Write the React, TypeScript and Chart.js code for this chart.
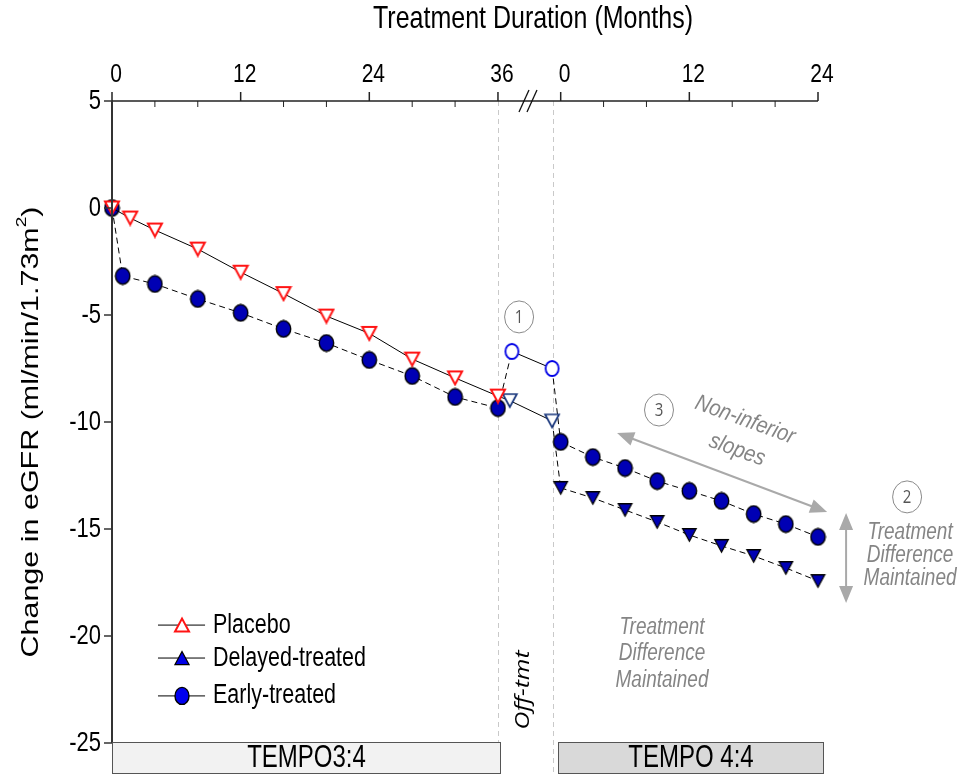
import React, { useEffect, useRef } from "react";
import { Chart, registerables } from "chart.js";

Chart.register(...registerables);

// ---------- data ----------
const TICK_MONTHS_P1 = [0, 12, 24, 36];
const TICK_MONTHS_P2 = [0, 12, 24];
const MINOR_MONTHS_P1 = [4, 8, 16, 20, 28, 32];
const MINOR_MONTHS_P2 = [4, 8, 16, 20];
const Y_TICKS = [5, 0, -5, -10, -15, -20, -25];

const PLACEBO_MONTHS = [0, 1.7, 4, 8, 12, 16, 20, 24, 28, 32, 36];
const PLACEBO_VALUES = [0, -0.47, -1.03, -1.92, -3.0, -4.0, -5.05, -5.86, -7.06, -7.94, -8.79];
const EARLY_P1_MONTHS = [0, 1, 4, 8, 12, 16, 20, 24, 28, 32, 36];
const EARLY_P1_VALUES = [0, -3.18, -3.55, -4.25, -4.9, -5.65, -6.31, -7.1, -7.85, -8.83, -9.35];
const OFF_EARLY_MONTHS = [37.3, 41.05];
const OFF_EARLY_VALUES = [-6.7, -7.5];
const OFF_PLACEBO_MONTHS = [37.1, 41.05];
const OFF_PLACEBO_VALUES = [-9.0, -9.95];
const P2_MONTHS = [0, 3, 6, 9, 12, 15, 18, 21, 24];
const EARLY_P2_VALUES = [-10.93, -11.64, -12.15, -12.76, -13.22, -13.69, -14.3, -14.77, -15.37];
const DELAYED_P2_VALUES = [-13.08, -13.55, -14.11, -14.67, -15.28, -15.79, -16.26, -16.82, -17.43];

// axis position of TEMPO 4:4 month 0 (after the axis break)
const BREAK_OFFSET = 41.85;
const OFF_TMT_LINE = 41.1;
const BREAK_MARK = 38.8;

// ---------- styling ----------
const FONT = '"Liberation Sans", Arial, sans-serif';
const SY = 1.27;
const BLUE = "#0000b4";
const GRAY_TXT = "#858585";
const GRAY_ARROW = "#a9a9a9";

type TOpts = {
  size: number;
  italic?: boolean;
  color?: string;
  align?: CanvasTextAlign;
  rot?: number;
  sx?: number;
  sy?: number;
  family?: string;
};

function txt(ctx: CanvasRenderingContext2D, s: string, x: number, y: number, o: TOpts) {
  ctx.save();
  ctx.translate(x, y);
  if (o.rot) ctx.rotate(o.rot);
  ctx.scale(o.sx ?? 1, o.sy ?? SY);
  ctx.font = `${o.italic ? "italic " : ""}${o.size}px ${o.family ?? FONT}`;
  ctx.fillStyle = o.color ?? "#000";
  ctx.textAlign = o.align ?? "center";
  ctx.textBaseline = "middle";
  ctx.fillText(s, 0, 0);
  ctx.restore();
}

function mk(w: number, h: number, draw: (g: CanvasRenderingContext2D) => void) {
  const c = document.createElement("canvas");
  c.width = w;
  c.height = h;
  draw(c.getContext("2d")!);
  return c;
}

function triPath(g: CanvasRenderingContext2D, cx: number, cy: number, w: number, h: number, down: boolean) {
  g.beginPath();
  if (down) {
    g.moveTo(cx - w / 2, cy - h / 2);
    g.lineTo(cx + w / 2, cy - h / 2);
    g.lineTo(cx, cy + h / 2);
  } else {
    g.moveTo(cx - w / 2, cy + h / 2);
    g.lineTo(cx + w / 2, cy + h / 2);
    g.lineTo(cx, cy - h / 2);
  }
  g.closePath();
}

function makeMarkers() {
  const circleFilled = mk(17, 19, (g) => {
    g.beginPath();
    g.ellipse(8.5, 9.5, 7.2, 8.2, 0, 0, Math.PI * 2);
    g.fillStyle = BLUE;
    g.fill();
    g.lineWidth = 1.4;
    g.strokeStyle = "#000";
    g.stroke();
  });
  const circleOpen = mk(17, 19, (g) => {
    g.beginPath();
    g.ellipse(8.5, 9.5, 6.5, 7.5, 0, 0, Math.PI * 2);
    g.fillStyle = "#fff";
    g.fill();
    g.lineWidth = 1.8;
    g.strokeStyle = "#0000e6";
    g.stroke();
  });
  const triRed = mk(18, 17, (g) => {
    triPath(g, 9, 8.5, 14, 13, true);
    g.fillStyle = "#fff";
    g.fill();
    g.lineWidth = 2;
    g.strokeStyle = "#ff1414";
    g.stroke();
  });
  const triNavy = mk(18, 17, (g) => {
    triPath(g, 9, 8.5, 14, 13, true);
    g.fillStyle = "#fff";
    g.fill();
    g.lineWidth = 1.7;
    g.strokeStyle = "#15337a";
    g.stroke();
  });
  const triFilled = mk(17, 16, (g) => {
    triPath(g, 8.5, 8, 13.5, 12.5, true);
    g.fillStyle = BLUE;
    g.fill();
    g.lineWidth = 1.3;
    g.strokeStyle = "#000";
    g.stroke();
  });
  return { circleFilled, circleOpen, triRed, triNavy, triFilled };
}

function arrowHead(ctx: CanvasRenderingContext2D, x: number, y: number, ang: number, len: number, half: number) {
  ctx.beginPath();
  ctx.moveTo(x, y);
  ctx.lineTo(x - len * Math.cos(ang) + half * Math.sin(ang), y - len * Math.sin(ang) - half * Math.cos(ang));
  ctx.lineTo(x - len * Math.cos(ang) - half * Math.sin(ang), y - len * Math.sin(ang) + half * Math.cos(ang));
  ctx.closePath();
  ctx.fill();
}

function doubleArrow(ctx: CanvasRenderingContext2D, x1: number, y1: number, x2: number, y2: number) {
  const ang = Math.atan2(y2 - y1, x2 - x1);
  const len = 17;
  ctx.save();
  ctx.strokeStyle = GRAY_ARROW;
  ctx.fillStyle = GRAY_ARROW;
  ctx.lineWidth = 2;
  ctx.beginPath();
  ctx.moveTo(x1 + Math.cos(ang) * len * 0.8, y1 + Math.sin(ang) * len * 0.8);
  ctx.lineTo(x2 - Math.cos(ang) * len * 0.8, y2 - Math.sin(ang) * len * 0.8);
  ctx.stroke();
  arrowHead(ctx, x2, y2, ang, len, 7);
  arrowHead(ctx, x1, y1, ang + Math.PI, len, 7);
  ctx.restore();
}

function circledNum(ctx: CanvasRenderingContext2D, n: string, x: number, y: number) {
  ctx.save();
  ctx.beginPath();
  ctx.ellipse(x, y, 14.5, 16, 0, 0, Math.PI * 2);
  ctx.fillStyle = "#fff";
  ctx.fill();
  ctx.strokeStyle = "#8a8a8a";
  ctx.lineWidth = 1;
  ctx.stroke();
  ctx.restore();
  txt(ctx, n, x, y + 1, { size: 15, color: "#555", family: '"Open Sans", "Noto Sans", sans-serif', sy: 1.15 });
}

const decor = {
  id: "decor",
  beforeDatasetsDraw(chart: any) {
    const ctx: CanvasRenderingContext2D = chart.ctx;
    const xs = chart.scales.x;
    const area = chart.chartArea;
    ctx.save();
    ctx.strokeStyle = "#c9c9c9";
    ctx.lineWidth = 1;
    ctx.setLineDash([5, 4]);
    for (const v of [36, OFF_TMT_LINE]) {
      const px = Math.round(xs.getPixelForValue(v)) + 0.5;
      ctx.beginPath();
      ctx.moveTo(px, area.top);
      ctx.lineTo(px, chart.height - 2);
      ctx.stroke();
    }
    ctx.restore();
  },
  afterDraw(chart: any) {
    const ctx: CanvasRenderingContext2D = chart.ctx;
    const xs = chart.scales.x;
    const ys = chart.scales.y;
    const area = chart.chartArea;
    const X = (v: number) => xs.getPixelForValue(v);
    const Y = (v: number) => ys.getPixelForValue(v);

    // ----- axes -----
    ctx.save();
    ctx.strokeStyle = "#222";
    ctx.lineWidth = 1.5;
    ctx.beginPath();
    ctx.moveTo(area.left, area.top);
    ctx.lineTo(area.right, area.top);
    ctx.stroke();
    const majors = [...TICK_MONTHS_P1, ...TICK_MONTHS_P2.map((m) => m + BREAK_OFFSET)];
    const majorLabels = [...TICK_MONTHS_P1, ...TICK_MONTHS_P2].map(String);
    majors.forEach((v) => {
      const px = X(v);
      ctx.beginPath();
      ctx.moveTo(px, area.top - 9);
      ctx.lineTo(px, area.top);
      ctx.stroke();
    });
    ctx.lineWidth = 1;
    [...MINOR_MONTHS_P1, ...MINOR_MONTHS_P2.map((m) => m + BREAK_OFFSET)].forEach((v) => {
      const px = X(v);
      ctx.beginPath();
      ctx.moveTo(px, area.top);
      ctx.lineTo(px, area.top + 6);
      ctx.stroke();
    });
    // break marks
    const bx = X(BREAK_MARK);
    ctx.lineWidth = 1.3;
    ctx.strokeStyle = "#111";
    for (const dx of [-4, 4]) {
      ctx.beginPath();
      ctx.moveTo(bx + dx - 5, area.top + 11);
      ctx.lineTo(bx + dx + 5, area.top - 11);
      ctx.stroke();
    }
    // y axis
    ctx.strokeStyle = "#333";
    ctx.lineWidth = 2;
    ctx.beginPath();
    ctx.moveTo(area.left, area.top);
    ctx.lineTo(area.left, area.bottom);
    ctx.stroke();
    ctx.lineWidth = 1.5;
    Y_TICKS.forEach((v) => {
      const py = Y(v);
      ctx.beginPath();
      ctx.moveTo(area.left - 8, py);
      ctx.lineTo(area.left, py);
      ctx.stroke();
    });
    ctx.restore();

    majors.forEach((v, i) => {
      txt(ctx, majorLabels[i], X(v) + 4, area.top - 26, { size: 21 });
    });
    Y_TICKS.forEach((v) => {
      txt(ctx, String(v), area.left - 11, Y(v), { size: 22, align: "right" });
    });

    // ----- titles -----
    txt(ctx, "Treatment Duration (Months)", 533, 19, { size: 25 });
    {
      ctx.save();
      ctx.translate(31, 432);
      ctx.rotate(-Math.PI / 2);
      ctx.scale(SY, 1);
      const main = "Change in eGFR (ml/min/1.73m";
      ctx.font = `24px ${FONT}`;
      const w1 = ctx.measureText(main).width;
      const w3 = ctx.measureText(")").width;
      ctx.font = `15px ${FONT}`;
      const w2 = ctx.measureText("2").width;
      const total = w1 + w2 + w3;
      ctx.fillStyle = "#000";
      ctx.textBaseline = "middle";
      ctx.textAlign = "left";
      ctx.font = `24px ${FONT}`;
      ctx.fillText(main, -total / 2, 0);
      ctx.font = `15px ${FONT}`;
      ctx.fillText("2", -total / 2 + w1, -9);
      ctx.font = `24px ${FONT}`;
      ctx.fillText(")", -total / 2 + w1 + w2, 0);
      ctx.restore();
    }

    // ----- legend -----
    const legendRows = [
      { label: "Placebo", y: -19.49, kind: "tri-open" },
      { label: "Delayed-treated", y: -21.03, kind: "tri-filled" },
      { label: "Early-treated", y: -22.8, kind: "circle" },
    ];
    legendRows.forEach((r) => {
      const py = Y(r.y);
      ctx.save();
      ctx.strokeStyle = "#000";
      ctx.lineWidth = 1;
      ctx.beginPath();
      ctx.moveTo(X(4.29), py);
      ctx.lineTo(X(8.68), py);
      ctx.stroke();
      const mx = X(6.53);
      if (r.kind === "circle") {
        ctx.beginPath();
        ctx.ellipse(mx, py, 7, 8.5, 0, 0, Math.PI * 2);
        ctx.fillStyle = "#0000f0";
        ctx.fill();
        ctx.lineWidth = 1.4;
        ctx.strokeStyle = "#000";
        ctx.stroke();
      } else {
        triPath(ctx, mx, py, 14, 13, false);
        ctx.fillStyle = r.kind === "tri-open" ? "#fff" : "#0000e6";
        ctx.fill();
        ctx.lineWidth = r.kind === "tri-open" ? 2 : 1.3;
        ctx.strokeStyle = r.kind === "tri-open" ? "#ff1414" : "#000";
        ctx.stroke();
      }
      ctx.restore();
      txt(ctx, r.label, X(9.42), py, { size: 21.5, align: "left" });
    });

    // ----- annotations -----
    circledNum(ctx, "1", X(37.97), Y(-5.09));
    circledNum(ctx, "3", X(51.02), Y(-9.44));
    circledNum(ctx, "2", X(74.16), Y(-13.5));
    doubleArrow(ctx, X(47.11), Y(-10.51), X(66.7), Y(-14.21));
    doubleArrow(ctx, X(68.47), Y(-14.25), X(68.47), Y(-18.46));
    const rot = (20 * Math.PI) / 180;
    txt(ctx, "Non-inferior", X(59.05), Y(-9.91), { size: 20, italic: true, color: GRAY_TXT, rot, sy: 1.15 });
    txt(ctx, "slopes", X(58.3), Y(-11.31), { size: 20, italic: true, color: GRAY_TXT, rot, sy: 1.15 });
    ["Treatment", "Difference", "Maintained"].forEach((s, i) => {
      txt(ctx, s, X(74.44), Y([-15.14, -16.21, -17.29][i]), { size: 19, italic: true, color: GRAY_TXT });
      txt(ctx, s, X(51.3), Y([-19.58, -20.79, -22.06][i]), { size: 19, italic: true, color: GRAY_TXT });
    });
    txt(ctx, "Off-tmt", X(38.34), Y(-22.52), {
      size: 19.5,
      italic: true,
      rot: -Math.PI / 2,
      sx: SY,
      sy: 1,
      family: '"Open Sans", "Noto Sans", sans-serif',
    });

    // ----- study boxes -----
    const boxTop = area.bottom - 1;
    const boxes = [
      { label: "TEMPO3:4", x0: 0, x1: 36.2, fill: "#f2f2f2" },
      { label: "TEMPO 4:4", x0: 41.6, x1: 66.3, fill: "#d9d9d9" },
    ];
    boxes.forEach((b) => {
      const x0 = Math.round(X(b.x0)) + 0.5;
      const x1 = Math.round(X(b.x1)) + 0.5;
      ctx.save();
      ctx.fillStyle = b.fill;
      ctx.fillRect(x0, boxTop, x1 - x0, 32);
      ctx.strokeStyle = "#555";
      ctx.lineWidth = 1;
      ctx.strokeRect(x0, boxTop + 0.5, x1 - x0, 31);
      ctx.restore();
      txt(ctx, b.label, (x0 + x1) / 2, boxTop + 16.5, { size: 24, sy: 1.3 });
    });
  },
};

export default function App() {
  const ref = useRef<HTMLCanvasElement>(null);
  useEffect(() => {
    document.body.style.margin = "0";
    const canvas = ref.current!;
    const m = makeMarkers();
    const dash = [6, 4];
    const lastEarly = EARLY_P1_VALUES[EARLY_P1_VALUES.length - 1];
    const lastPlacebo = PLACEBO_VALUES[PLACEBO_VALUES.length - 1];
    const chart = new Chart(canvas, {
      type: "line",
      data: {
        datasets: [
          {
            label: "Placebo",
            data: PLACEBO_MONTHS.map((x, i) => ({ x, y: PLACEBO_VALUES[i] })),
            borderColor: "#000",
            borderWidth: 1,
            pointStyle: m.triRed as any,
            pointRadius: 7,
            order: 1,
            clip: false as any,
          },
          {
            label: "Early-treated",
            data: EARLY_P1_MONTHS.map((x, i) => ({ x, y: EARLY_P1_VALUES[i] })),
            borderColor: "#000",
            borderWidth: 1,
            borderDash: dash,
            pointStyle: m.circleFilled as any,
            pointRadius: 7,
            order: 2,
            clip: false as any,
          },
          {
            label: "Delayed-treated",
            data: P2_MONTHS.map((x, i) => ({ x: x + BREAK_OFFSET, y: DELAYED_P2_VALUES[i] })),
            borderColor: "#000",
            borderWidth: 1,
            borderDash: dash,
            pointStyle: m.triFilled as any,
            pointRadius: 7,
            order: 3,
            clip: false as any,
          },
          {
            label: "Early-treated (TEMPO 4:4)",
            data: P2_MONTHS.map((x, i) => ({ x: x + BREAK_OFFSET, y: EARLY_P2_VALUES[i] })),
            borderColor: "#000",
            borderWidth: 1,
            borderDash: dash,
            pointStyle: m.circleFilled as any,
            pointRadius: 7,
            order: 4,
            clip: false as any,
          },
          {
            label: "Placebo off-treatment",
            data: [
              { x: 36, y: lastPlacebo },
              { x: OFF_PLACEBO_MONTHS[0], y: OFF_PLACEBO_VALUES[0] },
              { x: OFF_PLACEBO_MONTHS[1], y: OFF_PLACEBO_VALUES[1] },
              { x: BREAK_OFFSET + P2_MONTHS[0], y: DELAYED_P2_VALUES[0] },
            ],
            borderColor: "#000",
            borderWidth: 1,
            segment: { borderDash: (c: any) => (c.p0DataIndex === 2 ? dash : []) },
            pointStyle: m.triNavy as any,
            pointRadius: [0, 7, 7, 0],
            order: 5,
            clip: false as any,
          },
          {
            label: "Early off-treatment",
            data: [
              { x: 36, y: lastEarly },
              { x: OFF_EARLY_MONTHS[0], y: OFF_EARLY_VALUES[0] },
              { x: OFF_EARLY_MONTHS[1], y: OFF_EARLY_VALUES[1] },
              { x: BREAK_OFFSET + P2_MONTHS[0], y: EARLY_P2_VALUES[0] },
            ],
            borderColor: "#000",
            borderWidth: 1,
            segment: { borderDash: (c: any) => (c.p0DataIndex === 1 ? [] : dash) },
            pointStyle: m.circleOpen as any,
            pointRadius: [0, 7, 7, 0],
            order: 6,
            clip: false as any,
          },
        ],
      },
      options: {
        animation: false,
        responsive: false,
        events: [],
        layout: { padding: { left: 112, top: 101, right: 144, bottom: 33 } },
        plugins: { legend: { display: false }, tooltip: { enabled: false } },
        scales: {
          x: { type: "linear", display: false, min: 0, max: BREAK_OFFSET + 24 },
          y: { type: "linear", display: false, min: -25, max: 5 },
        },
      },
      plugins: [decor as any],
    });
    return () => chart.destroy();
  }, []);
  return <canvas ref={ref} width={962} height={776} style={{ display: "block" }} />;
}
